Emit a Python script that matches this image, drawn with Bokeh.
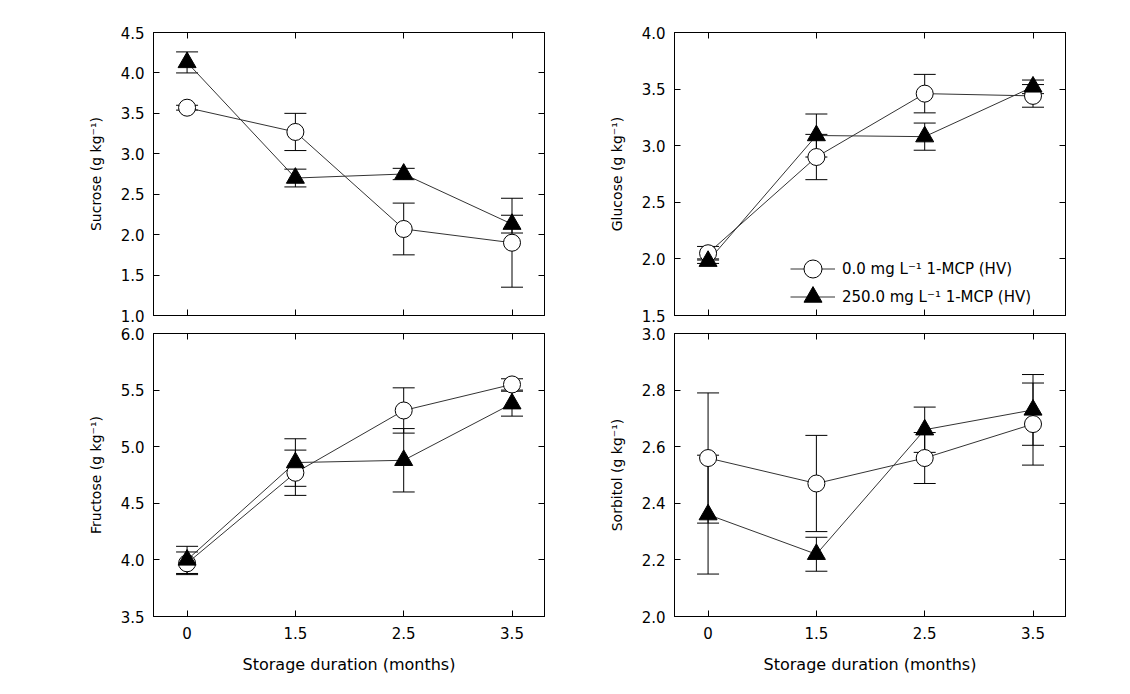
from bokeh.plotting import figure
from bokeh.layouts import column, row
from bokeh.models import (ColumnDataSource, Whisker, TeeHead, Range1d, FixedTicker,
                          LinearAxis, PrintfTickFormatter, Legend, LegendItem)
from bokeh.embed import file_html
from bokeh.resources import INLINE

# ---------------- data ----------------
x_labels = ["0", "1.5", "2.5", "3.5"]

sucrose_ctrl = [3.57, 3.27, 2.07, 1.90]
sucrose_ctrl_err = [0.03, 0.23, 0.32, 0.55]
sucrose_mcp = [4.13, 2.70, 2.75, 2.13]
sucrose_mcp_err = [0.13, 0.11, 0.07, 0.11]

glucose_ctrl = [2.05, 2.90, 3.46, 3.44]
glucose_ctrl_err = [0.06, 0.20, 0.17, 0.10]
glucose_mcp = [1.98, 3.09, 3.08, 3.52]
glucose_mcp_err = [0.02, 0.19, 0.12, 0.06]

fructose_ctrl = [3.97, 4.77, 5.32, 5.55]
fructose_ctrl_err = [0.10, 0.20, 0.20, 0.05]
fructose_mcp = [4.00, 4.86, 4.88, 5.38]
fructose_mcp_err = [0.12, 0.21, 0.28, 0.11]

sorbitol_ctrl = [2.56, 2.47, 2.56, 2.68]
sorbitol_ctrl_err = [0.23, 0.17, 0.09, 0.145]
sorbitol_mcp = [2.36, 2.22, 2.66, 2.73]
sorbitol_mcp_err = [0.21, 0.06, 0.08, 0.125]

sucrose_ticks = [1.0, 1.5, 2.0, 2.5, 3.0, 3.5, 4.0, 4.5]
glucose_ticks = [1.5, 2.0, 2.5, 3.0, 3.5, 4.0]
fructose_ticks = [3.5, 4.0, 4.5, 5.0, 5.5, 6.0]
sorbitol_ticks = [2.0, 2.2, 2.4, 2.6, 2.8, 3.0]

legend_labels = ["0.0 mg L\u207b\u00b9 1-MCP (HV)", "250.0 mg L\u207b\u00b9 1-MCP (HV)"]

FONT = "DejaVu Sans"


def blank_axis(ticker, ticks):
    return LinearAxis(ticker=ticker, major_label_overrides={t: "" for t in ticks},
                      major_tick_in=6, major_tick_out=0, major_label_standoff=0,
                      minor_tick_line_color=None, axis_line_color="black",
                      major_tick_line_color="black")


def make_panel(ylabel, yticks, ctrl, ctrl_err, mcp, mcp_err,
               bl, br, bt, bb, show_x, legend=False):
    xs = list(range(len(x_labels)))
    p = figure(frame_width=391, frame_height=283,
               x_range=Range1d(-0.31, len(x_labels) - 1 + 0.30),
               y_range=Range1d(yticks[0], yticks[-1]),
               output_backend="svg", toolbar_location=None,
               min_border_left=bl, min_border_right=br,
               min_border_top=bt, min_border_bottom=bb)
    p.grid.visible = False
    p.outline_line_color = "black"
    p.outline_line_width = 1
    p.background_fill_color = "white"
    p.border_fill_color = "white"

    xt = FixedTicker(ticks=xs)
    yt = FixedTicker(ticks=yticks)

    for ax in p.xaxis:
        ax.ticker = xt
        if show_x:
            ax.major_label_overrides = {i: lab for i, lab in enumerate(x_labels)}
        else:
            ax.major_label_overrides = {i: "" for i in xs}
    for ax in p.yaxis:
        ax.ticker = yt
        ax.formatter = PrintfTickFormatter(format="%.1f")

    for ax in p.axis:
        ax.major_tick_in = 6
        ax.major_tick_out = 0
        ax.minor_tick_line_color = None
        ax.axis_line_color = "black"
        ax.major_tick_line_color = "black"
        ax.major_label_text_font = FONT
        ax.major_label_text_font_size = "15px"
        ax.major_label_text_color = "black"
        ax.axis_label_text_font = FONT
        ax.axis_label_text_font_style = "normal"
        ax.axis_label_text_color = "black"

    p.yaxis.axis_label = ylabel
    p.yaxis.axis_label_text_font_size = "14px"
    p.yaxis.major_label_standoff = 9
    p.yaxis.axis_label_standoff = 14

    if show_x:
        p.xaxis.axis_label = "Storage duration (months)"
        p.xaxis.axis_label_text_font_size = "16px"
        p.xaxis.major_label_standoff = 10
        p.xaxis.axis_label_standoff = 13
    else:
        p.xaxis.major_label_standoff = 0

    # mirrored tick axes (ticks only)
    p.add_layout(blank_axis(yt, yticks), "right")
    p.add_layout(blank_axis(xt, xs), "above")

    series = []
    for vals, errs, marker, fill, size in [(ctrl, ctrl_err, "circle", "white", 17),
                                           (mcp, mcp_err, "triangle", "black", 18)]:
        src = ColumnDataSource(dict(x=xs, y=vals,
                                    lo=[v - e for v, e in zip(vals, errs)],
                                    hi=[v + e for v, e in zip(vals, errs)]))
        w = Whisker(source=src, base="x", upper="hi", lower="lo", dimension="height",
                    line_color="black", line_width=1,
                    upper_head=TeeHead(size=22, line_color="black", line_width=1),
                    lower_head=TeeHead(size=22, line_color="black", line_width=1))
        p.add_layout(w)
        ln = p.line("x", "y", source=src, line_color="#333333", line_width=1)
        series.append((ln, src, marker, fill, size))
    marks = []
    for ln, src, marker, fill, size in series:
        m = p.scatter("x", "y", source=src, marker=marker, size=size,
                      fill_color=fill, line_color="black", line_width=1)
        marks.append((ln, m))

    if legend:
        for (ln, m), lab, loc in zip(marks, legend_labels, [(116, 24), (116, -4)]):
            lg = Legend(items=[LegendItem(label=lab, renderers=[ln, m])],
                        location=loc, glyph_width=45, glyph_height=45,
                        padding=0, margin=0, label_standoff=7,
                        border_line_color=None, background_fill_alpha=0,
                        label_text_font=FONT, label_text_font_size="15px",
                        label_text_color="black")
            p.add_layout(lg)
    return p


p1 = make_panel("Sucrose (g kg\u207b\u00b9)", sucrose_ticks, sucrose_ctrl, sucrose_ctrl_err,
                sucrose_mcp, sucrose_mcp_err, 153, 24, 32, 9, False)
p2 = make_panel("Glucose (g kg\u207b\u00b9)", glucose_ticks, glucose_ctrl, glucose_ctrl_err,
                glucose_mcp, glucose_mcp_err, 106, 20, 32, 9, False, legend=True)
p3 = make_panel("Fructose (g kg\u207b\u00b9)", fructose_ticks, fructose_ctrl, fructose_ctrl_err,
                fructose_mcp, fructose_mcp_err, 153, 24, 9, 62, True)
p4 = make_panel("Sorbitol (g kg\u207b\u00b9)", sorbitol_ticks, sorbitol_ctrl, sorbitol_ctrl_err,
                sorbitol_mcp, sorbitol_mcp_err, 106, 20, 9, 62, True)

layout = column(row(p1, p2), row(p3, p4))
open("out.html", "w").write(file_html(layout, INLINE))
